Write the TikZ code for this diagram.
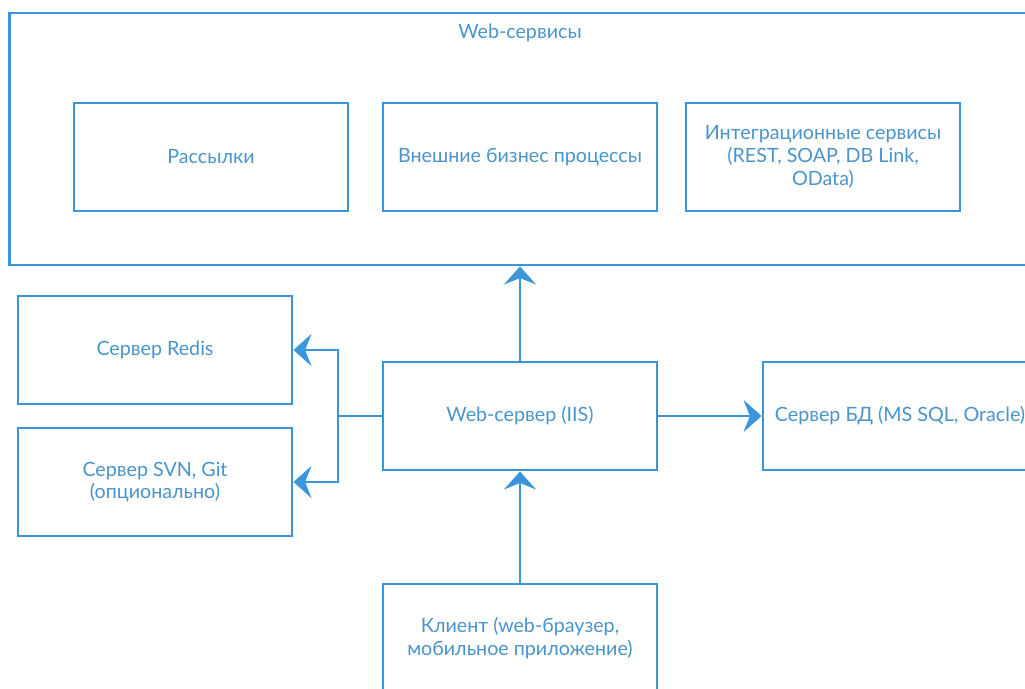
\documentclass[tikz,border=0pt]{standalone}
\usepackage{fontspec}
\setmainfont{Lato}
\usetikzlibrary{arrows.meta}
\definecolor{lineblue}{HTML}{3A96DB}
\definecolor{textblue}{HTML}{4A94CC}

\tikzset{
    service box/.style={
        draw=lineblue,line width=2pt,
        minimum width=6.85cm,minimum height=2.7cm,
        align=center,text=textblue,
        font=\fontsize{14}{16.3}\selectfont
    },
    link/.style={
        draw=lineblue,line width=2pt,
        -{Stealth[length=.45cm,width=.8cm,inset=.16cm]}
    }
}

\begin{document}
\begin{tikzpicture}[x=0.025cm,y=-0.025cm]
        \useasboundingbox (0,0) rectangle (1025,689);
        \clip (0,0) rectangle (1025,689);
        \node[service box,minimum width=25.5cm,minimum height=6.3cm] (webservices) at (520,139) {};
        \node[text=textblue,font=\fontsize{14}{16.3}\selectfont] (title) at (520,33) {Web-сервисы};
        \foreach \x/\name/\txt in {211/mail/Рассылки,520/bp/Внешние бизнес процессы,823/integ/{Интеграционные сервисы\\(REST, SOAP, DB Link,\\OData)}}
            \node[service box] (\name) at (\x,157) {\txt};
        \node[service box] (redis) at (155,350) {Сервер Redis};
        \node[service box] (vcs) at (155,482) {Сервер SVN, Git\\(опционально)};
        \node[service box] (iis) at (520,416) {Web-сервер (IIS)};
        \node[service box] (db) at (900,416) {Сервер БД (MS SQL, Oracle)};
        \node[service box] (client) at (520,638) {Клиент (web-браузер,\\мобильное приложение)};
        \coordinate (split) at (338,416);
        \draw[link] (iis.north) -- (iis.north |- webservices.south);
        \draw[link] (client.north) -- (iis.south);
        \draw[link] (iis.east) -- (db.west);
        \draw[lineblue,line width=2pt] (iis.west) -- (split);
        \draw[link] (split) |- (redis.east);
        \draw[link] (split) |- (vcs.east);
    \end{tikzpicture}
\end{document}
